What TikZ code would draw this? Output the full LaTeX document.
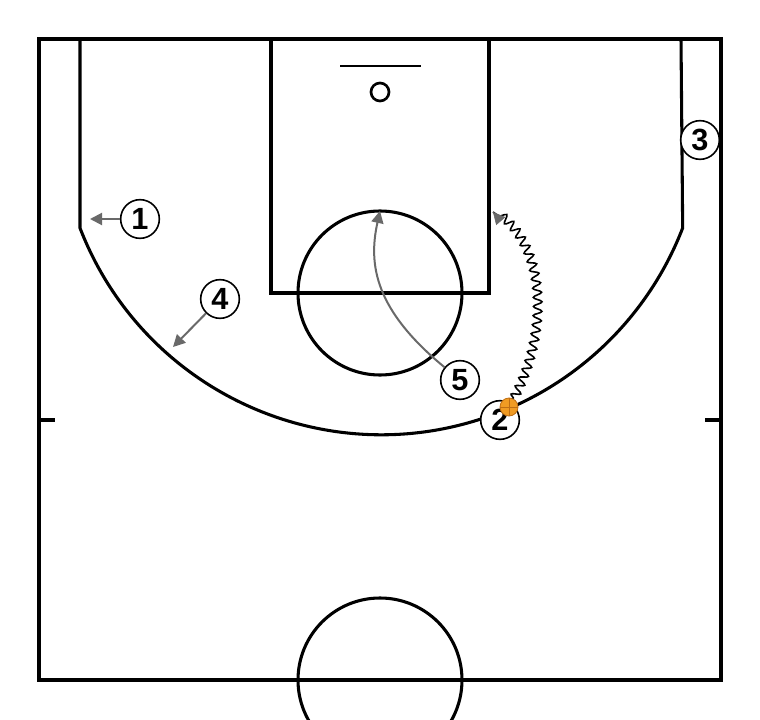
\documentclass[tikz,border=0pt]{standalone}
\usepackage{fontspec}
\setmainfont{Liberation Sans}
\usetikzlibrary{arrows.meta, decorations.pathmorphing}
\definecolor{movegray}{RGB}{105,105,105}
\definecolor{ballorange}{RGB}{240,155,35}
\definecolor{balledge}{RGB}{190,110,20}

\begin{document}
\begin{tikzpicture}[x=0.75pt,y=0.75pt,yscale=-1,xscale=1,
  court/.style={line width=2.3pt, line join=miter},
  player/.style={circle, draw, fill=white, line width=1.2pt, minimum size=29pt, inner sep=0pt, font=\fontsize{23}{23}\selectfont\bfseries},
  move/.style={movegray, line width=1.5pt, -{Triangle[length=9pt,width=9pt]}},
  dribble/.style={line width=1.2pt, decorate, decoration={snake, amplitude=3.2pt, segment length=7pt, post length=5pt}}]
\clip (0,0) rectangle (760,720);
\path[fill=white] (0,0) rectangle (760,720);

%Court outline
\draw [court] (39,39) rectangle (721,680) ;
%Three point line
\draw [court] (80,39) -- (80,228) arc [start angle=158.9, end angle=21.1, radius=323] -- (681,39) ;
%Lane
\draw [court] (271,39) -- (271,293) -- (489,293) -- (489,39) ;
%Free throw circle
\draw [court] (380,293) circle [radius=82] ;
%Backboard and rim
\draw [line width=1.5pt] (340,66) -- (421,66) ;
\draw [line width=2pt] (380,92) circle [radius=9] ;
%Side ticks
\draw [court] (39,420) -- (55,420) ;
\draw [court] (705,420) -- (721,420) ;
%Center circle
\draw [court] (380,680) circle [radius=82] ;

% Players
\node [player] (p1) at (140,219) {1};
\node [player] (p2) at (500,420) {2};
\node [player] (p3) at (700,140) {3};
\node [player] (p4) at (220,299) {4};
\node [player] (p5) at (460,380) {5};

% Ball
\node [circle, fill=ballorange, draw=balledge, line width=0.6pt, minimum size=13.5pt, inner sep=0pt] (ball) at (509,407) {};
\draw [balledge, line width=0.5pt] (ball.north) -- (ball.south) (ball.west) -- (ball.east) ;

% Moves
\coordinate (t1) at (90,219);
\coordinate (t4) at (173,347);
\coordinate (t5) at (380,211);
\coordinate (t2) at (493,212);
\draw [move] (p1) -- (t1) ;
\draw [move] (p4) -- (t4) ;
\draw [move] (p5) .. controls (375,310) and (368,265) .. (t5) ;
%Dribble
\draw [dribble] (ball) .. controls (545,340) and (550,250) .. (t2) ;
\draw [movegray, -{Triangle[length=9pt,width=9pt]}] (499,219) -- (t2) ;

\end{tikzpicture}
\end{document}
